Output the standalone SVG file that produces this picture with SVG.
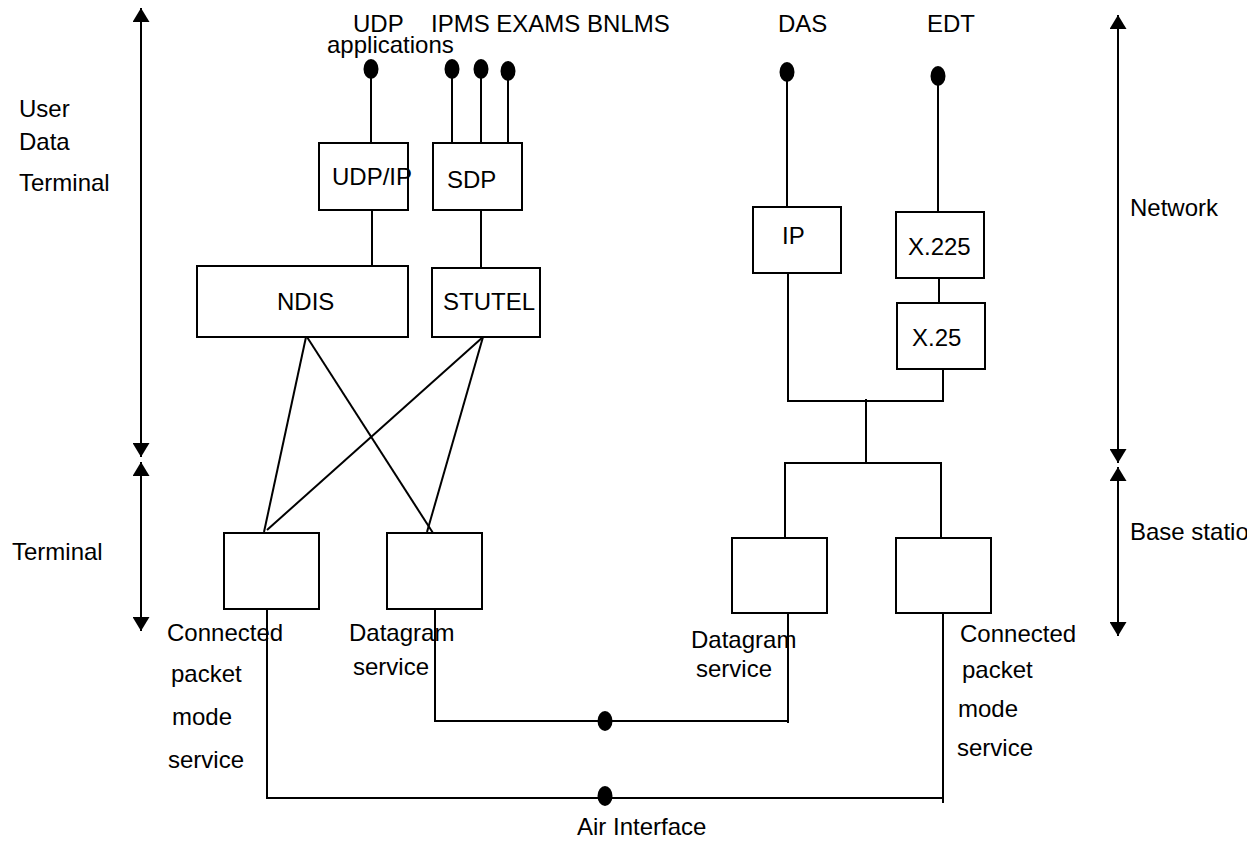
<svg xmlns="http://www.w3.org/2000/svg" width="1260" height="843" viewBox="0 0 1260 843">
  <defs>
    <style>
      text { font-family: "Liberation Sans", Arial, sans-serif; font-size: 24px; fill: #000; }
      .box { fill: #fff; stroke: #000; stroke-width: 2; }
      .wire { fill: none; stroke: #000; stroke-width: 2; }
      .dot { fill: #000; }
      .scope { fill: none; stroke: #000; stroke-width: 2; marker-start: url(#head); marker-end: url(#head); }
    </style>
    <marker id="head" viewBox="0 0 14 17" refX="14" refY="8.5" markerWidth="14" markerHeight="17" markerUnits="userSpaceOnUse" orient="auto-start-reverse">
      <path d="M0,0 L14,8.5 L0,17 z" fill="#000"/>
    </marker>
    <!-- page edge on the right-hand side -->
    <clipPath id="page">
      <rect x="0" y="0" width="1247" height="843"/>
    </clipPath>
  </defs>

  <rect width="1260" height="843" fill="#fff"/>

  <!-- Scope arrows and side labels -->
  <g id="scopes">
    <line class="scope" x1="141" y1="8" x2="141" y2="457"/>
    <line class="scope" x1="141" y1="462" x2="141" y2="631"/>
    <line class="scope" x1="1118" y1="15" x2="1118" y2="463"/>
    <line class="scope" x1="1118" y1="467" x2="1118" y2="636"/>
    <text x="19" y="117">User</text>
    <text x="19" y="150">Data</text>
    <text x="19" y="191">Terminal</text>
    <text x="12" y="560">Terminal</text>
    <text x="1130" y="216">Network</text>
    <text x="1130" y="540" clip-path="url(#page)">Base station</text>
  </g>

  <!-- Connectors -->
  <g id="connectors">
    <line class="wire" x1="371" y1="69" x2="371" y2="143"/>
    <line class="wire" x1="452" y1="69" x2="452" y2="143"/>
    <line class="wire" x1="481" y1="69" x2="481" y2="143"/>
    <line class="wire" x1="508" y1="71" x2="508" y2="143"/>
    <line class="wire" x1="372" y1="210" x2="372" y2="266"/>
    <line class="wire" x1="481" y1="210" x2="481" y2="268"/>
    <line class="wire" x1="306" y1="337" x2="264" y2="532"/>
    <line class="wire" x1="307" y1="337" x2="433" y2="533"/>
    <line class="wire" x1="483" y1="337" x2="267" y2="530"/>
    <line class="wire" x1="483" y1="337" x2="427" y2="532"/>
    <line class="wire" x1="787" y1="72" x2="787" y2="207"/>
    <line class="wire" x1="938" y1="76" x2="938" y2="212"/>
    <line class="wire" x1="939" y1="278" x2="939" y2="303"/>
    <polyline class="wire" points="788,273 788,401 943,401 943,369"/>
    <line class="wire" x1="866" y1="399" x2="866" y2="463"/>
    <polyline class="wire" points="785,538 785,463 941,463 941,538"/>
    <polyline class="wire" points="435,609 435,721 788,721"/>
    <line class="wire" x1="788" y1="613" x2="788" y2="723"/>
    <polyline class="wire" points="267,609 267,798 943,798"/>
    <line class="wire" x1="943" y1="613" x2="943" y2="803"/>
    <ellipse class="dot" cx="371" cy="69" rx="7.5" ry="10"/>
    <ellipse class="dot" cx="452" cy="69" rx="7.5" ry="10"/>
    <ellipse class="dot" cx="481" cy="69" rx="7.5" ry="10"/>
    <ellipse class="dot" cx="508" cy="71" rx="7.5" ry="10"/>
    <ellipse class="dot" cx="787" cy="72" rx="7.5" ry="10"/>
    <ellipse class="dot" cx="938" cy="76" rx="7.5" ry="10"/>
    <ellipse class="dot" cx="605" cy="721" rx="7.5" ry="10"/>
    <ellipse class="dot" cx="605" cy="796" rx="7.5" ry="10"/>
  </g>

  <!-- Application labels -->
  <g id="apps">
    <text x="353" y="32">UDP</text>
    <text x="327" y="53">applications</text>
    <text x="431" y="32">IPMS EXAMS BNLMS</text>
    <text x="778" y="32">DAS</text>
    <text x="927" y="32">EDT</text>
  </g>

  <!-- Protocol stack nodes -->
  <g id="udpip"><rect class="box" x="319" y="143" width="89" height="67"/><text x="332" y="185">UDP/IP</text></g>
  <g id="sdp"><rect class="box" x="433" y="143" width="89" height="67"/><text x="447" y="188">SDP</text></g>
  <g id="ndis"><rect class="box" x="197" y="266" width="211" height="71"/><text x="277" y="310">NDIS</text></g>
  <g id="stutel"><rect class="box" x="432" y="268" width="108" height="69"/><text x="443" y="310">STUTEL</text></g>
  <g id="ip"><rect class="box" x="753" y="207" width="88" height="66"/><text x="782" y="244">IP</text></g>
  <g id="x225"><rect class="box" x="896" y="212" width="88" height="66"/><text x="908" y="255">X.225</text></g>
  <g id="x25"><rect class="box" x="897" y="303" width="88" height="66"/><text x="912" y="346">X.25</text></g>

  <!-- Service nodes -->
  <g id="term-connected">
    <rect class="box" x="224" y="533" width="95" height="76"/>
    <text x="167" y="641">Connected</text>
    <text x="171" y="682">packet</text>
    <text x="172" y="725">mode</text>
    <text x="168" y="768">service</text>
  </g>
  <g id="term-datagram">
    <rect class="box" x="387" y="533" width="95" height="76"/>
    <text x="349" y="641">Datagram</text>
    <text x="353" y="675">service</text>
  </g>
  <g id="bs-datagram">
    <rect class="box" x="732" y="538" width="95" height="75"/>
    <text x="691" y="648">Datagram</text>
    <text x="696" y="677">service</text>
  </g>
  <g id="bs-connected">
    <rect class="box" x="896" y="538" width="95" height="75"/>
    <text x="960" y="642">Connected</text>
    <text x="962" y="678">packet</text>
    <text x="958" y="717">mode</text>
    <text x="957" y="756">service</text>
  </g>

  <g id="air">
    <text x="577" y="835">Air Interface</text>
  </g>
</svg>
